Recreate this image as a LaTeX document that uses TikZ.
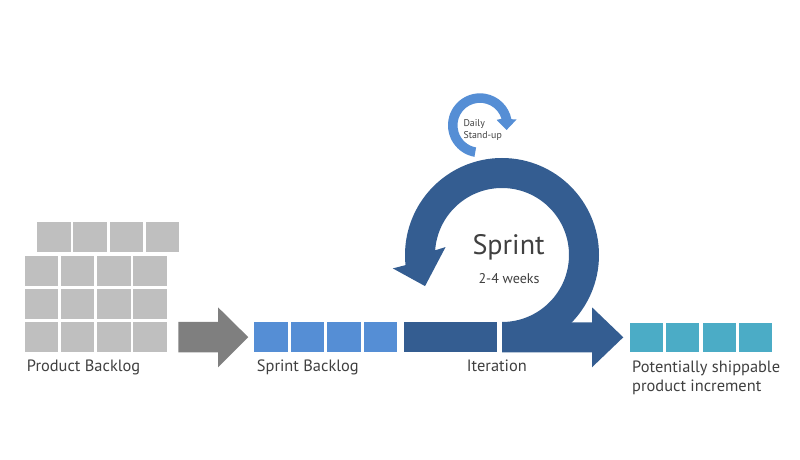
\documentclass[tikz,border=0pt]{standalone}
\usepackage{fontspec}
\setmainfont{PT Sans}
\usetikzlibrary{positioning}

\definecolor{backloggray}{RGB}{191,191,191}
\definecolor{arrowgray}{RGB}{127,127,127}
\definecolor{sprintlight}{RGB}{85,142,213}
\definecolor{sprintdark}{RGB}{52,93,145}
\definecolor{shipteal}{RGB}{75,172,198}
\definecolor{textgray}{RGB}{64,64,64}

\begin{document}
\begin{tikzpicture}[x=0.03cm,y=-0.03cm,
  lbl/.style={inner sep=0pt,anchor=base west,text=textgray,align=left}]
\useasboundingbox (0,0) rectangle (800,460);
%
% product backlog
\fill[backloggray] (37,222.4) rectangle (70.5,252.4);
\fill[backloggray] (73.3,222.4) rectangle (106.8,252.4);
\fill[backloggray] (109.6,222.4) rectangle (143.1,252.4);
\fill[backloggray] (145.9,222.4) rectangle (179.4,252.4);
\fill[backloggray] (24.5,255.7) rectangle (58,285.7);
\fill[backloggray] (60.8,255.7) rectangle (94.3,285.7);
\fill[backloggray] (97.1,255.7) rectangle (130.6,285.7);
\fill[backloggray] (133.4,255.7) rectangle (166.9,285.7);
\fill[backloggray] (24.5,289) rectangle (58,319);
\fill[backloggray] (60.8,289) rectangle (94.3,319);
\fill[backloggray] (97.1,289) rectangle (130.6,319);
\fill[backloggray] (133.4,289) rectangle (166.9,319);
\fill[backloggray] (24.5,322.3) rectangle (58,352.3);
\fill[backloggray] (60.8,322.3) rectangle (94.3,352.3);
\fill[backloggray] (97.1,322.3) rectangle (130.6,352.3);
\fill[backloggray] (133.4,322.3) rectangle (166.9,352.3);
\fill[arrowgray] (178.3,322) -- (218,322) -- (218,307.3) -- (248.3,337.2)
  -- (218,367.3) -- (218,352.3) -- (178.3,352.3) -- cycle;
%
% sprint backlog
\fill[sprintlight] (254.3,322.3) rectangle (287.7,352.3);
\fill[sprintlight] (290.8,322.3) rectangle (324.2,352.3);
\fill[sprintlight] (327.3,322.3) rectangle (360.7,352.3);
\fill[sprintlight] (363.8,322.3) rectangle (397.2,352.3);
%
% daily stand-up loop
\fill[sprintlight, shift={(480,125.3)}] (100:32) arc[start angle=100,end angle=349,radius=32]
  -- (351:37) -- (370:27) -- (342:17.5) -- (343:22.5)
  arc[start angle=343,end angle=100,radius=22.5] -- cycle;
%
% iteration and sprint loop
\fill[sprintdark] (404,322.3) rectangle (497.3,352.3);
\fill[sprintdark] (502,322.3) -- (592,322.3) -- (592,307.3) -- (623.3,337.3)
  -- (592,367.3) -- (592,352.3) -- (502,352.3) -- cycle;
\fill[sprintdark, shift={(502,255)}] (90:97) arc[start angle=90,end angle=-186,radius=97]
  -- (-187:110) -- (-202:83) -- (-172:57) -- (-176:67)
  arc[start angle=-176,end angle=90,radius=67] -- cycle;
%
% shippable increment
\fill[shipteal] (630,322.7) rectangle (663,352.3);
\fill[shipteal] (666.3,322.7) rectangle (699.3,352.3);
\fill[shipteal] (702.6,322.7) rectangle (735.6,352.3);
\fill[shipteal] (738.9,322.7) rectangle (771.9,352.3);
%
\node[lbl,font=\fontsize{14}{16}\selectfont] (pb) at (26.7,371.7) {Product Backlog};
\node[lbl,font=\fontsize{14}{16}\selectfont] (sb) at (256.7,371.7) {Sprint Backlog};
\node[lbl,font=\fontsize{14}{16}\selectfont] (iter) at (466.7,371.7) {Iteration};
\node[lbl,font=\fontsize{14}{16}\selectfont] (psi) at (632,391.7) {Potentially shippable\\product increment};
\node[lbl,font=\fontsize{24}{28}\selectfont] (sprint) at (472.3,254.3) {Sprint};
\node[lbl,font=\fontsize{12}{14}\selectfont] (weeks) at (478.3,283.3) {2-4 weeks};
\node[lbl,font=\fontsize{8.4}{10}\selectfont] (daily) at (463.3,138.3) {Daily\\Stand-up};
\end{tikzpicture}
\end{document}
